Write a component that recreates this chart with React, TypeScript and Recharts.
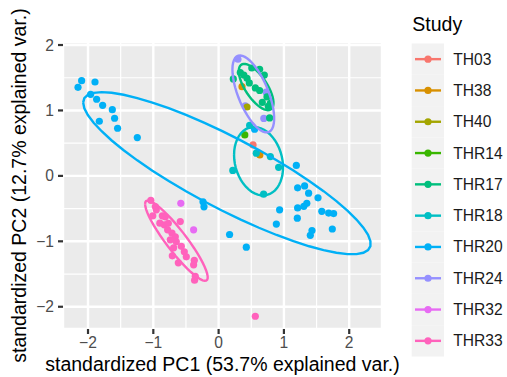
import React from 'react';
import { ScatterChart, Scatter, XAxis, YAxis, CartesianGrid } from 'recharts';

const FONT = '"Liberation Sans", Arial, Helvetica, sans-serif';

// Study groups and their ggplot-style hue colours
const STUDIES = ['TH03', 'TH38', 'TH40', 'THR14', 'THR17', 'THR18', 'THR20', 'THR24', 'THR32', 'THR33'];
const STUDY_COLORS = ['#F8766D', '#D89000', '#A3A500', '#39B600', '#00BF7D', '#00BFC4', '#00B0F6', '#9590FF', '#E76BF3', '#FF62BC'];

// Standardized PC scores per study
const TH03_PC1 = [0.527];
const TH03_PC2 = [0.473];
const TH38_PC1 = [0.358, 0.631];
const TH38_PC2 = [1.363, 0.321];
const TH40_PC1 = [0.435];
const TH40_PC2 = [1.053];
const THR14_PC1 = [0.401];
const THR14_PC2 = [0.626];
const THR17_PC1 = [0.225, 0.332, 0.386, 0.435, 0.47, 0.508, 0.628, 0.7, 0.628, 0.741, 0.669, 0.792, 0.761, 0.781, 0.562];
const THR17_PC2 = [1.481, 1.58, 1.542, 1.492, 1.42, 1.649, 1.629, 1.542, 1.305, 1.206, 1.122, 1.107, 1.061, 0.885, 1.344];
const THR18_PC1 = [0.475, 0.577, 0.792, 0.919, 0.217, 0.689];
const THR18_PC2 = [0.771, 0.347, 0.295, 0.13, 0.084, -0.279];
const THR20_PC1 = [
  -2.098, -2.153, -1.893, -1.96, -1.868, -1.776, -1.628, -1.593, -1.827, -1.547, -1.245,
  1.19, 1.21, 1.317, 1.378, 1.522, 0.934, 1.21, 1.305, 1.351, 1.58, 1.685, 1.761, 0.884, 1.205, 1.43, 1.404, 1.741,
  -0.239, -0.224, 0.168, 0.424, 0.551,
];
const THR20_PC2 = [
  1.455, 1.354, 1.435, 1.247, 1.171, 1.079, 1.012, 0.881, 0.835, 0.728, 0.585,
  0.16, -0.183, -0.153, -0.264, -0.336, -0.519, -0.489, -0.466, -0.42, -0.542, -0.569, -0.576, -0.736, -0.646, -0.835, -0.908, -0.812,
  -0.397, -0.473, -0.896, -1.089, 0.713,
];
const THR24_PC1 = [0.296, 0.692, 0.727, 0.409];
const THR24_PC2 = [1.782, 0.878, 1.279, 1.069];
const THR32_PC1 = [-0.579, -0.383];
const THR32_PC2 = [-0.42, -0.824];
const THR33_PC1 = [
  -1.038, -0.969, -1.008, -0.862, -0.816, -0.9, -0.832, -0.77, -0.781, -0.714, -0.663, -0.689, -0.571,
  -0.709, -0.525, -0.617, -0.495, -0.372, -0.383, -0.357, -0.368, -0.587, -0.954, -0.74, -0.648, 0.562,
];
const THR33_PC2 = [
  -0.374, -0.469, -0.611, -0.611, -0.626, -0.722, -0.748, -0.725, -0.824, -0.875, -0.931, -1.099, -1.076,
  -1.221, -1.16, -1.328, -1.237, -1.29, -1.359, -1.534, -1.595, -0.698, -0.519, -0.977, -1.008, -2.145,
];

const SCORES: Record<string, [number[], number[]]> = {
  TH03: [TH03_PC1, TH03_PC2],
  TH38: [TH38_PC1, TH38_PC2],
  TH40: [TH40_PC1, TH40_PC2],
  THR14: [THR14_PC1, THR14_PC2],
  THR17: [THR17_PC1, THR17_PC2],
  THR18: [THR18_PC1, THR18_PC2],
  THR20: [THR20_PC1, THR20_PC2],
  THR24: [THR24_PC1, THR24_PC2],
  THR32: [THR32_PC1, THR32_PC2],
  THR33: [THR33_PC1, THR33_PC2],
};

// Order in which the point layers are stacked
const POINT_ORDER = ['THR20', 'THR24', 'TH38', 'THR18', 'TH03', 'THR17', 'TH40', 'THR14', 'THR32', 'THR33'];

// Axis ticks, minor grid values and panel limits
const X_TICKS = [-2, -1, 0, 1, 2];
const Y_TICKS = [-2, -1, 0, 1, 2];
const X_MINOR = [-1.5, -0.5, 0.5, 1.5];
const Y_MINOR = [-1.5, -0.5, 0.5, 1.5];
const X_DOMAIN: [number, number] = [-2.383, 2.502];
const Y_DOMAIN: [number, number] = [-2.34, 2.046];

const X_TITLE = 'standardized PC1 (53.7% explained var.)';
const Y_TITLE = 'standardized PC2 (12.7% explained var.)';
const LEGEND_TITLE = 'Study';

// Normal-theory ellipse (68% probability) around a group's scores
const ELLIPSE_PROB = 0.68;
function groupEllipse(xs: number[], ys: number[]) {
  const n = xs.length;
  const mx = xs.reduce((a, b) => a + b, 0) / n;
  const my = ys.reduce((a, b) => a + b, 0) / n;
  let sxx = 0, syy = 0, sxy = 0;
  for (let i = 0; i < n; i++) {
    sxx += (xs[i] - mx) ** 2;
    syy += (ys[i] - my) ** 2;
    sxy += (xs[i] - mx) * (ys[i] - my);
  }
  sxx /= n - 1; syy /= n - 1; sxy /= n - 1;
  const r11 = Math.sqrt(sxx);
  const r12 = sxy / r11;
  const r22 = Math.sqrt(Math.max(syy - r12 * r12, 0));
  const ed = Math.sqrt(-2 * Math.log(1 - ELLIPSE_PROB));
  const steps = 50;
  const thetas: number[] = [];
  for (let i = 0; i < steps; i++) thetas.push(-Math.PI + (2 * Math.PI * i) / (steps - 1));
  for (let i = 0; i < steps; i++) thetas.push(Math.PI - (2 * Math.PI * i) / (steps - 1));
  return thetas.map((t) => ({
    x: mx + ed * Math.cos(t) * r11,
    y: my + ed * (Math.cos(t) * r12 + Math.sin(t) * r22),
  }));
}

const colorOf = (s: string) => STUDY_COLORS[STUDIES.indexOf(s)];
const pointsOf = (s: string) => SCORES[s][0].map((x, i) => ({ x, y: SCORES[s][1][i] }));
const fmtTick = (v: number) => (v < 0 ? '\u2212' + Math.abs(v) : String(v));

const Dot = (props: any) => <circle cx={props.cx} cy={props.cy} r={3.6} fill={props.fill} />;
const NoDot = () => <g />;

const KEY_TOP = 43.5;
const KEY_H = 31.3;

export default function App() {
  return (
    <div style={{ position: 'absolute', left: 0, top: 0, width: 507, height: 377, fontFamily: FONT }}>
      <ScatterChart width={507} height={377} margin={{ top: 42, right: 125, bottom: 0, left: 0 }}>
        <CartesianGrid fill="#EBEBEB" stroke="#FFFFFF" strokeWidth={2.4} />
        <CartesianGrid stroke="#FFFFFF" strokeWidth={1.2} verticalValues={X_MINOR} horizontalValues={Y_MINOR} />
        <XAxis
          type="number"
          dataKey="x"
          domain={X_DOMAIN}
          ticks={X_TICKS}
          allowDataOverflow
          height={48}
          axisLine={false}
          tickSize={5}
          tickMargin={3}
          tickLine={{ stroke: '#333333', strokeWidth: 2.2 }}
          tick={{ fill: '#4D4D4D', fontSize: 15.6, fontFamily: FONT }}
          tickFormatter={fmtTick}
          label={{ value: X_TITLE, position: 'insideBottom', offset: 6, fill: '#000000', fontSize: 19.5, fontFamily: FONT }}
        />
        <YAxis
          type="number"
          dataKey="y"
          domain={Y_DOMAIN}
          ticks={Y_TICKS}
          allowDataOverflow
          width={63}
          axisLine={false}
          tickSize={5}
          tickMargin={4}
          tickLine={{ stroke: '#333333', strokeWidth: 2.2 }}
          tick={{ fill: '#4D4D4D', fontSize: 15.6, fontFamily: FONT }}
          tickFormatter={fmtTick}
          label={{
            value: Y_TITLE,
            angle: -90,
            position: 'insideLeft',
            offset: 19,
            fill: '#000000',
            fontSize: 19.5,
            fontFamily: FONT,
            style: { textAnchor: 'middle' },
          }}
        />
        {POINT_ORDER.map((s) => (
          <Scatter
            key={'pts-' + s}
            name={s}
            data={pointsOf(s)}
            fill={colorOf(s)}
            shape={Dot}
            isAnimationActive={false}
          />
        ))}
        {STUDIES.filter((s) => SCORES[s][0].length > 2).map((s) => (
          <Scatter
            key={'ell-' + s}
            data={groupEllipse(SCORES[s][0], SCORES[s][1])}
            fill="none"
            shape={NoDot}
            line={{ stroke: colorOf(s), strokeWidth: 2.4, fill: 'none' }}
            isAnimationActive={false}
          />
        ))}
      </ScatterChart>
      <svg width={507} height={377} style={{ position: 'absolute', left: 0, top: 0, pointerEvents: 'none' }}>
        <text x={412.3} y={31} fontSize={19.5} fill="#000000" fontFamily={FONT}>
          {LEGEND_TITLE}
        </text>
        {STUDIES.map((s, i) => {
          const top = KEY_TOP + i * KEY_H;
          const cy = top + KEY_H / 2;
          return (
            <g key={'leg-' + s}>
              <rect x={411.7} y={top} width={32.3} height={KEY_H} fill="#F2F2F2" />
              <line x1={415} x2={441} y1={cy} y2={cy} stroke={colorOf(s)} strokeWidth={2.4} />
              <circle cx={428} cy={cy} r={3.6} fill={colorOf(s)} />
              <text x={453.3} y={cy + 5.5} fontSize={15.6} fill="#1A1A1A" fontFamily={FONT}>
                {s}
              </text>
            </g>
          );
        })}
      </svg>
    </div>
  );
}
